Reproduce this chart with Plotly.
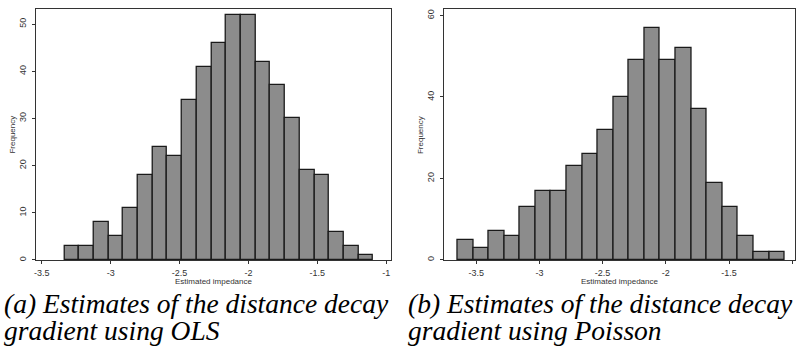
import plotly.graph_objects as go

# ---- data ----
ols_counts = [3, 3, 8, 5, 11, 18, 24, 22, 34, 41, 46, 52, 52, 42, 37, 30, 19, 18, 6, 3, 1]
ols_bin_start = -3.336
ols_bin_width = 0.10676

poisson_counts = [5, 3, 7, 6, 13, 17, 17, 23, 26, 32, 40, 49, 57, 49, 52, 37, 19, 13, 6, 2, 2]
poisson_bin_start = -3.647
poisson_bin_width = 0.1232

x_ticks = [-3.5, -3.0, -2.5, -2.0, -1.5, -1.0]
x_tick_labels = ["-3.5", "-3", "-2.5", "-2", "-1.5", "-1"]
ols_y_ticks = [0, 10, 20, 30, 40, 50]
poisson_y_ticks = [0, 20, 40, 60]

caption_a = ["(a) Estimates of the distance decay", "gradient using OLS"]
caption_b = ["(b) Estimates of the distance decay", "gradient using Poisson"]

W, H = 796, 348
def px(x):
    return x / W
def py(y):
    return 1 - y / H

BAR_FILL = "#8c8c8c"
BAR_LINE = "#1a1a1a"
AX_COL = "#333333"
TICK_FONT = dict(family="Liberation Sans, Arial", size=9, color="#333333")

fig = go.Figure()

def centers(start, width, n):
    return [start + (i + 0.5) * width for i in range(n)]

fig.add_trace(go.Bar(
    x=centers(ols_bin_start, ols_bin_width, len(ols_counts)), y=ols_counts,
    width=ols_bin_width, marker=dict(color=BAR_FILL, line=dict(color=BAR_LINE, width=1.3)),
    xaxis="x", yaxis="y", showlegend=False))
fig.add_trace(go.Bar(
    x=centers(poisson_bin_start, poisson_bin_width, len(poisson_counts)), y=poisson_counts,
    width=poisson_bin_width, marker=dict(color=BAR_FILL, line=dict(color=BAR_LINE, width=1.3)),
    xaxis="x2", yaxis="y2", showlegend=False))

common_x = dict(tickmode="array", tickvals=x_ticks, ticktext=x_tick_labels,
                ticks="outside", ticklen=3, tickcolor=AX_COL, tickfont=TICK_FONT,
                ticklabelstandoff=1,
                showline=True, linecolor=AX_COL, linewidth=1, mirror=True,
                showgrid=False, zeroline=False)
common_y = dict(ticks="outside", ticklen=3, tickcolor=AX_COL, tickfont=TICK_FONT,
                tickangle=-90, ticklabelstandoff=2,
                showline=True, linecolor=AX_COL, linewidth=1, mirror=True,
                showgrid=False, zeroline=False)

fig.update_layout(
    width=W, height=H,
    margin=dict(l=0, r=0, t=0, b=0),
    paper_bgcolor="white", plot_bgcolor="white",
    bargap=0,
    xaxis=dict(domain=[px(34), px(390.7)], range=[-3.543, -0.964], anchor="y", **common_x),
    yaxis=dict(domain=[py(260.7), py(9)], range=[0, 53.2], anchor="x",
               tickmode="array", tickvals=ols_y_ticks, **common_y),
    xaxis2=dict(domain=[px(443.3), px(795.5)], range=[-3.757, -0.983], anchor="y2", **common_x),
    yaxis2=dict(domain=[py(260.7), py(9)], range=[0, 61.6], anchor="x2",
                tickmode="array", tickvals=poisson_y_ticks, **common_y),
)

ann = []
title_font = dict(family="Liberation Sans, Arial", size=8, color="#333333")
for cx, fx in [((34 + 390.7) / 2, 11), ((443.3 + 795.5) / 2, 420)]:
    ann.append(dict(text="Estimated impedance", x=px(cx), y=py(282.5), xref="paper", yref="paper",
                    showarrow=False, xanchor="center", yanchor="middle", font=title_font))
    ann.append(dict(text="Frequency", x=px(fx), y=py(135), xref="paper", yref="paper",
                    showarrow=False, xanchor="center", yanchor="middle", textangle=-90, font=title_font))

cap_font = dict(family="Liberation Serif, Times New Roman", size=27.5, color="#000000")
for x0, lines in [(0, caption_a), (406, caption_b)]:
    for yy, line in zip([304, 331], lines):
        ann.append(dict(text="<i>" + line + "</i>", x=px(x0), y=py(yy), xref="paper", yref="paper",
                        showarrow=False, xanchor="left", yanchor="middle", font=cap_font))
fig.update_layout(annotations=ann)

fig.write_html("out.html", config={"displayModeBar": False},
               post_script="document.body.style.margin='0';document.body.style.overflow='hidden';")
